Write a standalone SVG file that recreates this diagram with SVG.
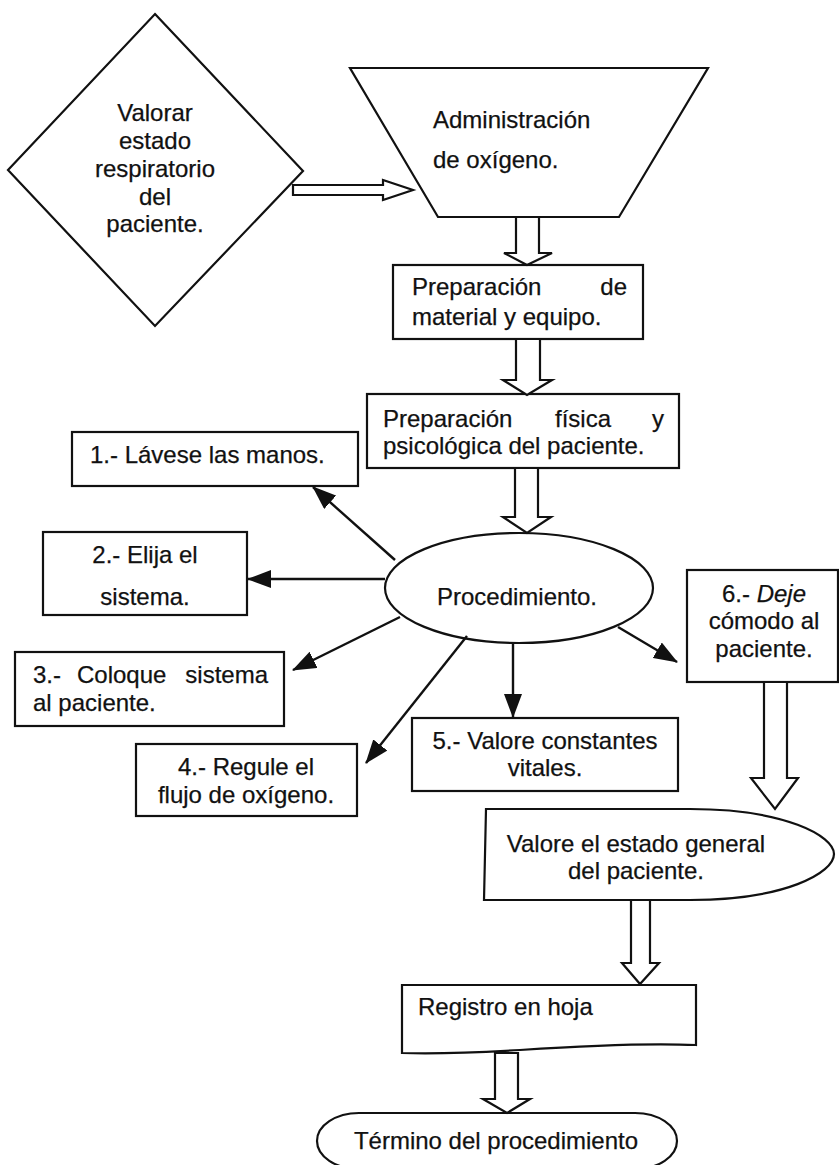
<svg xmlns="http://www.w3.org/2000/svg" width="839" height="1165" viewBox="0 0 839 1165">
  <style>
    .shape { fill: #fff; stroke: #111; stroke-width: 2.2; }
    .block { fill: #fff; stroke: #111; stroke-width: 2.2; stroke-linejoin: miter; }
    .line { stroke: #111; stroke-width: 2.4; fill: none; }
    text { font-family: "Liberation Sans", Arial, sans-serif; font-size: 24px; fill: #111; stroke: #111; stroke-width: 0.25; }
    .c { text-anchor: middle; }
    .e { text-anchor: end; }
  </style>
  <defs>
    <marker id="tri" markerWidth="24" markerHeight="18" refX="23" refY="9" orient="auto" markerUnits="userSpaceOnUse">
      <path d="M0,0 L24,9 L0,18 Z" fill="#111"/>
    </marker>
  </defs>

  <rect width="839" height="1165" fill="#fff"/>

  <!-- decision: assess breathing -->
  <g id="node-valorar">
    <polygon class="shape" points="155,14 303,171 155,326 8,170"/>
    <text class="c" x="155" y="121">Valorar</text>
    <text class="c" x="155" y="149">estado</text>
    <text class="c" x="155" y="177">respiratorio</text>
    <text class="c" x="155" y="205">del</text>
    <text class="c" x="155" y="232">paciente.</text>
  </g>

  <!-- manual operation: oxygen administration -->
  <g id="node-administracion">
    <polygon class="shape" points="350,68 708,68 619,217 438,217"/>
    <text x="433" y="128">Administración</text>
    <text x="433" y="168">de oxígeno.</text>
  </g>

  <g id="node-material">
    <rect class="shape" x="393" y="265" width="250" height="74"/>
    <text x="412" y="295">Preparación</text>
    <text class="e" x="627" y="295">de</text>
    <text x="412" y="325">material y equipo.</text>
  </g>

  <g id="node-fisica">
    <rect class="shape" x="367" y="394" width="312" height="74"/>
    <text x="383" y="427">Preparación</text>
    <text x="555" y="427">física</text>
    <text class="e" x="664" y="427">y</text>
    <text x="383" y="454">psicológica del paciente.</text>
  </g>

  <g id="node-procedimiento">
    <ellipse class="shape" cx="519" cy="588" rx="134" ry="55"/>
    <text class="c" x="517" y="605">Procedimiento.</text>
  </g>

  <g id="node-paso1">
    <rect class="shape" x="72" y="432" width="286" height="54"/>
    <text x="90" y="463">1.- Lávese las manos.</text>
  </g>

  <g id="node-paso2">
    <rect class="shape" x="43" y="532" width="204" height="83"/>
    <text class="c" x="145" y="563">2.- Elija el</text>
    <text class="c" x="145" y="605">sistema.</text>
  </g>

  <g id="node-paso3">
    <rect class="shape" x="15" y="652" width="269" height="74"/>
    <text x="33" y="683">3.-</text>
    <text x="77" y="683">Coloque</text>
    <text class="e" x="268" y="683">sistema</text>
    <text x="33" y="711">al paciente.</text>
  </g>

  <g id="node-paso4">
    <rect class="shape" x="136" y="744" width="221" height="72"/>
    <text class="c" x="246" y="775">4.- Regule el</text>
    <text class="c" x="246" y="803">flujo de oxígeno.</text>
  </g>

  <g id="node-paso5">
    <rect class="shape" x="412" y="718" width="266" height="73"/>
    <text class="c" x="545" y="749">5.- Valore constantes</text>
    <text class="c" x="545" y="776">vitales.</text>
  </g>

  <g id="node-paso6">
    <rect class="shape" x="687" y="570" width="151" height="112"/>
    <text class="c" x="764" y="602">6.- <tspan font-style="italic">Deje</tspan></text>
    <text class="c" x="764" y="629">cómodo al</text>
    <text class="c" x="764" y="657">paciente.</text>
  </g>

  <g id="node-valore-estado">
    <path class="shape" d="M486,809 L690,809 C785,809 834,836 834,854 C834,873 785,900 690,900 L484,900 Z"/>
    <text class="c" x="636" y="852">Valore el estado general</text>
    <text class="c" x="636" y="879">del paciente.</text>
  </g>

  <g id="node-registro">
    <path class="shape" d="M402,985 L696,985 L696,1045 C650,1043 580,1046 520,1050 C470,1053 435,1054 402,1053 Z"/>
    <text x="418" y="1015">Registro en hoja</text>
  </g>

  <g id="node-termino">
    <rect class="shape" x="317" y="1113" width="360" height="56" rx="42" ry="28"/>
    <text class="c" x="496" y="1149">Término del procedimiento</text>
  </g>

  <!-- connectors -->
  <g id="connectors">
    <!-- hollow block arrows along the main flow -->
    <polygon class="block" points="293,185 383,185 383,180 413,190 383,200 383,195 293,195"/>
    <polygon class="block" points="516,217 539,217 539,253 552,253 527,265 504,253 516,253"/>
    <polygon class="block" points="516,339 540,339 540,380 552,380 527,395 503,380 516,380"/>
    <polygon class="block" points="515,468 538,468 538,517 551,517 527,533 503,517 515,517"/>
    <polygon class="block" points="764,682 787,682 787,778 798,778 775,809 751,778 764,778"/>
    <polygon class="block" points="631,900 650,900 650,963 659,963 640,984 622,963 631,963"/>
    <polygon class="block" points="495,1053 518,1053 518,1099 530,1099 507,1113 483,1099 495,1099"/>

    <!-- procedure steps radiating from the ellipse -->
    <line class="line" x1="395" y1="560" x2="313" y2="487" marker-end="url(#tri)"/>
    <line class="line" x1="385" y1="579" x2="248" y2="579" marker-end="url(#tri)"/>
    <line class="line" x1="400" y1="617" x2="293" y2="670" marker-end="url(#tri)"/>
    <line class="line" x1="467" y1="636" x2="366" y2="763" marker-end="url(#tri)"/>
    <line class="line" x1="513" y1="643" x2="513" y2="717" marker-end="url(#tri)"/>
    <line class="line" x1="618" y1="627" x2="677" y2="662" marker-end="url(#tri)"/>
  </g>
</svg>
